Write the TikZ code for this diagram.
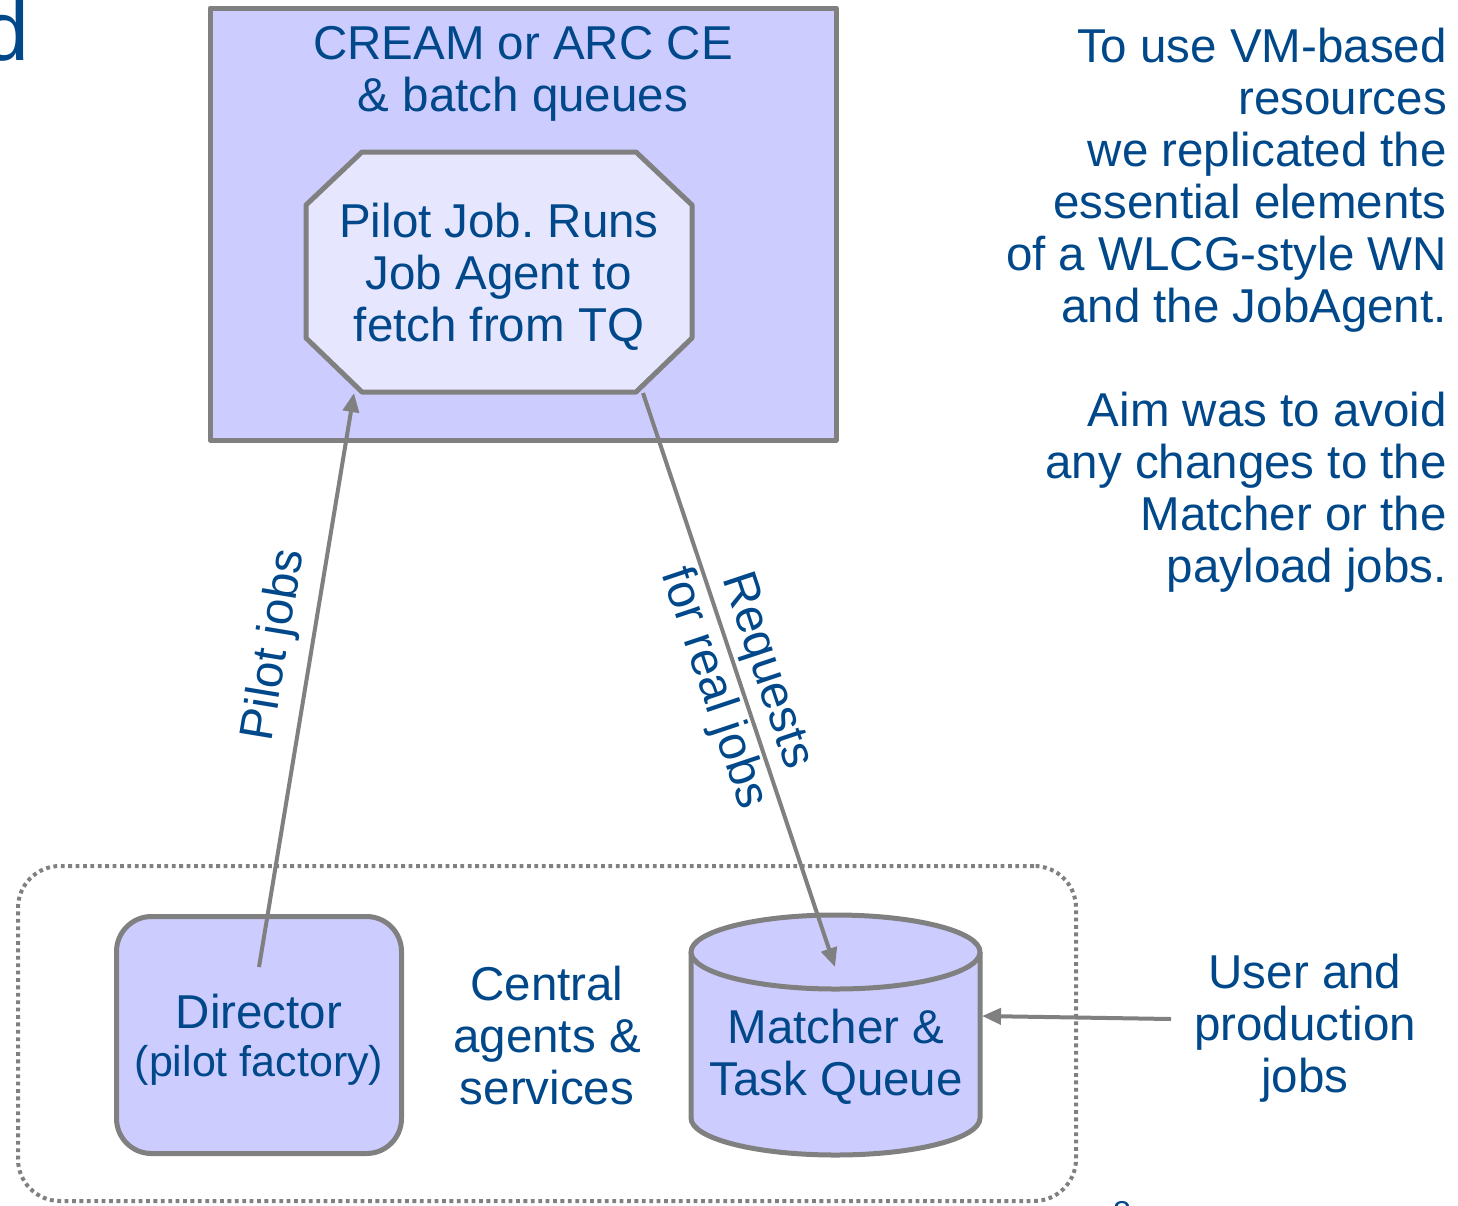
\documentclass[tikz,border=0pt]{standalone}
\usepackage{fontspec}
\setmainfont{Liberation Sans}
\usetikzlibrary{arrows.meta}
\definecolor{txtblue}{RGB}{0,72,138}
\definecolor{boxfill}{RGB}{204,204,255}
\definecolor{octfill}{RGB}{230,230,255}
\definecolor{edgegrey}{RGB}{128,128,128}
\frenchspacing
\begin{document}
\begin{tikzpicture}[x=1pt,y=-1pt,
  label text/.style={text=txtblue, font=\fontsize{47.5}{52}\selectfont, align=center, inner sep=0pt},
  frame/.style={draw=edgegrey, line width=5pt, line join=round},
  flow/.style={draw=edgegrey, line width=4pt, -{Triangle[length=19pt,width=16pt]}},
  groupframe/.style={draw=edgegrey, line width=4pt, dash pattern=on 3.8pt off 3.6pt, rounded corners=42pt},
]
\useasboundingbox (0,0) rectangle (1458,1205);
\clip (0,0) rectangle (1458,1205);

% partial heading letter and page number at the edges
\node[text=txtblue, font=\fontsize{84}{84}\selectfont, anchor=base west, inner sep=0pt] (heading) at (-18,60) {d};
\node[text=txtblue, font=\fontsize{33}{33}\selectfont, anchor=base, inner sep=0pt] (pagenum) at (1122,1224) {8};

% computing element with the pilot job inside
\draw[frame, fill=boxfill] (210,8) rectangle (836,440);
\node[label text] (ce) at (523,74) {CREAM or ARC CE\\\& batch queues};
\draw[frame, fill=octfill] (362,152) -- (636,152) -- (692,205) -- (692,338) -- (636,392)
  -- (362,392) -- (306,338) -- (306,205) -- cycle;
\node[label text] (pilot) at (499,277) {Pilot Job. Runs\\Job Agent to\\fetch from TQ};
\coordinate (pilotin) at (354,393);
\coordinate (pilotout) at (643,393);

% central services group
\node[groupframe, minimum width=1058pt, minimum height=335pt] (group) at (547,1033.5) {};

\node[frame, fill=boxfill, rounded corners=35pt, minimum width=285pt, minimum height=237pt] (director) at (259,1035) {};
\node[label text] (dirtext) at (259,1040) {Director\\[-4pt]{\fontsize{43}{48}\selectfont(pilot factory)}};

\node[label text] (central) at (547,1036) {Central\\agents \&\\services};

% matcher / task queue drum
\fill[boxfill] (691,952) -- (691,1118) arc[start angle=180, end angle=360, x radius=144.5pt, y radius=37pt] -- (980,952) -- cycle;
\draw[frame] (691,952) -- (691,1118) arc[start angle=180, end angle=360, x radius=144.5pt, y radius=37pt] -- (980,952);
\draw[frame, fill=boxfill] (835.5,952) ellipse [x radius=144.5pt, y radius=37pt];
\node[label text] (mq) at (836,1057) {Matcher \&\\Task Queue};
\coordinate (mqtop) at (835,967);
\coordinate (mqside) at (982,1016);

\node[label text] (user) at (1305,1028) {User and\\production\\jobs};
\coordinate (usersrc) at (1171,1019);

% connectors
\draw[flow] ([yshift=-53pt]director.north) -- node[label text, pos=0.55, sloped, above=12pt] (pjlabel) {Pilot jobs} (pilotin);
\draw[flow] (pilotout) -- node[label text, font=\fontsize{48}{56}\selectfont, midway, sloped] (reqlabel) {Requests\\for real jobs} (mqtop);
\draw[flow] (usersrc) -- (mqside);

% explanatory note
\node[label text, align=right, anchor=east] (note) at (1447,310) {To use VM-based\\resources\\we replicated the\\essential elements\\of a WLCG-style WN\\and the JobAgent.\\[52pt]Aim was to avoid\\any changes to the\\Matcher or the\\payload jobs.};
\end{tikzpicture}
\end{document}
